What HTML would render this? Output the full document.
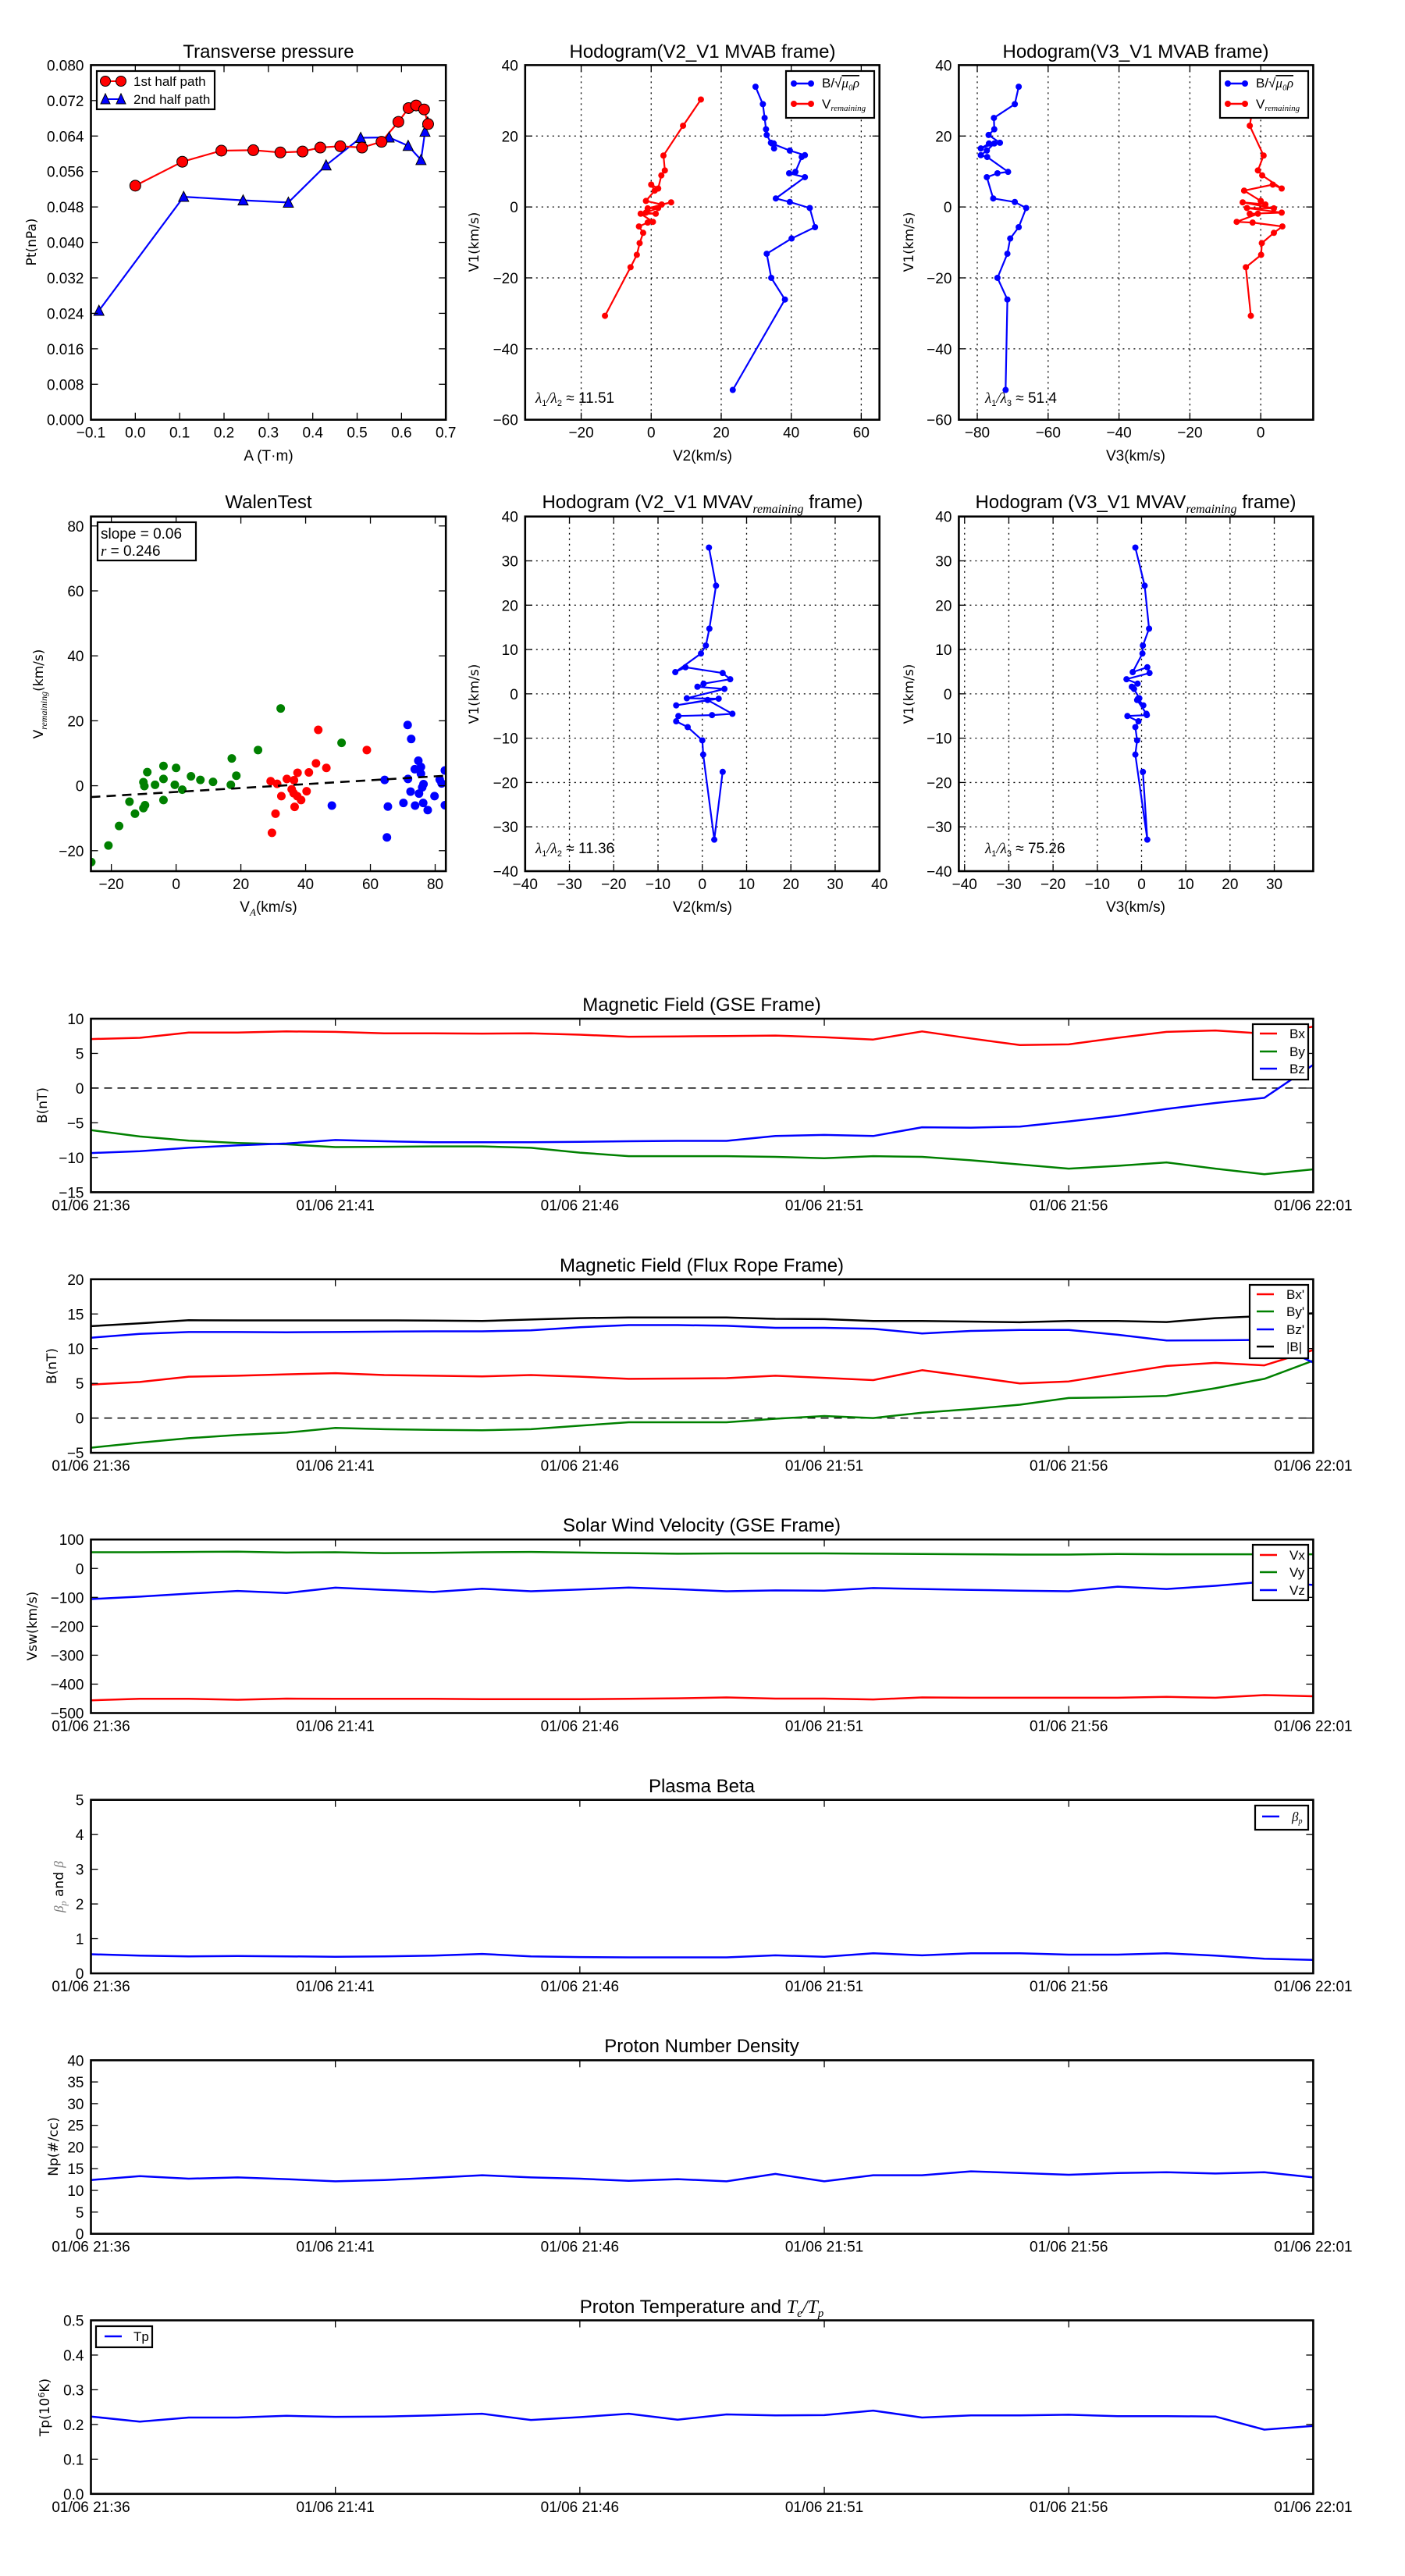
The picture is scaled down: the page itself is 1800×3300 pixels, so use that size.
<!DOCTYPE html>
<html>
<head>
<meta charset="utf-8">
<style>
html,body{margin:0;padding:0;background:#fff;}
svg{display:block;}
text{font-family:"Liberation Sans",sans-serif;fill:#000;}
.t{font-size:24px;text-anchor:middle;}
.yl{font-family:"DejaVu Sans","Liberation Sans",sans-serif;font-size:17px;text-anchor:middle;}
.xl{font-size:19px;text-anchor:middle;}
.lg{font-size:17px;}
.m{font-family:"Liberation Serif",serif;font-style:italic;}
</style>
</head>
<body>
<svg id="figure" xmlns="http://www.w3.org/2000/svg" width="1800" height="3300" viewBox="0 0 1800 3300">
<rect x="0" y="0" width="1800" height="3300" fill="#fff"/>

<!-- Titles -->
<text class="t" x="344" y="74">Transverse pressure</text>
<text class="t" x="900" y="74">Hodogram(V2_V1 MVAB frame)</text>
<text class="t" x="1455" y="74">Hodogram(V3_V1 MVAB frame)</text>
<text class="t" x="344" y="651">WalenTest</text>
<text class="t" x="900" y="651">Hodogram (V2_V1 MVAV<tspan class="m" font-size="16" dy="6">remaining</tspan><tspan dy="-6"> frame)</tspan></text>
<text class="t" x="1455" y="651">Hodogram (V3_V1 MVAV<tspan class="m" font-size="16" dy="6">remaining</tspan><tspan dy="-6"> frame)</tspan></text>
<text class="t" x="899" y="1295">Magnetic Field (GSE Frame)</text>
<text class="t" x="899" y="1629">Magnetic Field (Flux Rope Frame)</text>
<text class="t" x="899" y="1962">Solar Wind Velocity (GSE Frame)</text>
<text class="t" x="899" y="2296">Plasma Beta</text>
<text class="t" x="899" y="2629">Proton Number Density</text>
<text class="t" x="899" y="2963">Proton Temperature and <tspan class="m">T</tspan><tspan class="m" font-size="15" dy="5">e</tspan><tspan class="m" dy="-5">/T</tspan><tspan class="m" font-size="15" dy="5">p</tspan></text>

<!-- Axis labels -->
<text class="xl" x="344" y="590">A (T·m)</text>
<text class="xl" x="900" y="590">V2(km/s)</text>
<text class="xl" x="1455" y="590">V3(km/s)</text>
<text class="xl" x="344" y="1168">V<tspan class="m" font-size="13" dy="5">A</tspan><tspan dy="-5">(km/s)</tspan></text>
<text class="xl" x="900" y="1168">V2(km/s)</text>
<text class="xl" x="1455" y="1168">V3(km/s)</text>

<text class="yl" transform="translate(46,310) rotate(-90)">Pt(nPa)</text>
<text class="yl" transform="translate(613,310) rotate(-90)">V1(km/s)</text>
<text class="yl" transform="translate(1170,310) rotate(-90)">V1(km/s)</text>
<text class="yl" transform="translate(55,889) rotate(-90)">V<tspan class="m" font-size="12" dy="5">remaining</tspan><tspan dy="-5">(km/s)</tspan></text>
<text class="yl" transform="translate(613,889) rotate(-90)">V1(km/s)</text>
<text class="yl" transform="translate(1170,889) rotate(-90)">V1(km/s)</text>

<text class="yl" transform="translate(60,1416) rotate(-90)">B(nT)</text>
<text class="yl" transform="translate(72,1750) rotate(-90)">B(nT)</text>
<text class="yl" transform="translate(47,2083) rotate(-90)">Vsw(km/s)</text>
<text class="yl" transform="translate(81,2417) rotate(-90)"><tspan class="m" fill="#777">β</tspan><tspan class="m" fill="#777" font-size="12" dy="4">p</tspan><tspan dy="-4"> and </tspan><tspan class="m" fill="#777">β</tspan></text>
<text class="yl" transform="translate(74,2750) rotate(-90)">Np(#/cc)</text>
<text class="yl" transform="translate(63,3084) rotate(-90)">Tp(10<tspan font-size="11" dy="-6">6</tspan><tspan dy="6">K)</tspan></text>

<g id="plots"></g>

<!-- Legends & annotations (drawn on top) -->
<g>
  <rect x="124" y="91" width="151" height="49" fill="#fff" stroke="#000" stroke-width="2.2"/>
  <line x1="135" y1="104" x2="155" y2="104" stroke="#f00" stroke-width="2"/>
  <circle cx="135" cy="104" r="6.5" fill="#f00" stroke="#000" stroke-width="1"/>
  <circle cx="155" cy="104" r="6.5" fill="#f00" stroke="#000" stroke-width="1"/>
  <text class="lg" x="171" y="110">1st half path</text>
  <line x1="135" y1="127" x2="155" y2="127" stroke="#00f" stroke-width="2"/>
  <polygon points="135,120 141,133 129,133" fill="#00f" stroke="#000" stroke-width="1"/>
  <polygon points="155,120 161,133 149,133" fill="#00f" stroke="#000" stroke-width="1"/>
  <text class="lg" x="171" y="133">2nd half path</text>
</g>
<g>
  <rect x="1007" y="91" width="113" height="60" fill="#fff" stroke="#000" stroke-width="2.2"/>
  <line x1="1017" y1="107" x2="1039" y2="107" stroke="#00f" stroke-width="2.5"/>
  <circle cx="1017" cy="107" r="4" fill="#00f"/><circle cx="1039" cy="107" r="4" fill="#00f"/>
  <text class="lg" x="1053" y="112">B/√<tspan class="m" text-decoration="overline">μ₀ρ</tspan></text>
  <line x1="1017" y1="133" x2="1039" y2="133" stroke="#f00" stroke-width="2.5"/>
  <circle cx="1017" cy="133" r="4" fill="#f00"/><circle cx="1039" cy="133" r="4" fill="#f00"/>
  <text class="lg" x="1053" y="139">V<tspan class="m" font-size="11" dy="3">remaining</tspan></text>
</g>
<g>
  <rect x="1563" y="91" width="113" height="60" fill="#fff" stroke="#000" stroke-width="2.2"/>
  <line x1="1573" y1="107" x2="1595" y2="107" stroke="#00f" stroke-width="2.5"/>
  <circle cx="1573" cy="107" r="4" fill="#00f"/><circle cx="1595" cy="107" r="4" fill="#00f"/>
  <text class="lg" x="1609" y="112">B/√<tspan class="m" text-decoration="overline">μ₀ρ</tspan></text>
  <line x1="1573" y1="133" x2="1595" y2="133" stroke="#f00" stroke-width="2.5"/>
  <circle cx="1573" cy="133" r="4" fill="#f00"/><circle cx="1595" cy="133" r="4" fill="#f00"/>
  <text class="lg" x="1609" y="139">V<tspan class="m" font-size="11" dy="3">remaining</tspan></text>
</g>
<g>
  <rect x="125" y="669" width="126" height="49" fill="#fff" stroke="#000" stroke-width="2.2"/>
  <text x="129" y="690" font-size="19">slope = 0.06</text>
  <text x="129" y="712" font-size="19"><tspan class="m">r</tspan> = 0.246</text>
</g>
<text x="686" y="516" font-size="19"><tspan class="m">λ</tspan><tspan font-size="11" dy="4">1</tspan><tspan class="m" dy="-4">/λ</tspan><tspan font-size="11" dy="4">2</tspan><tspan dy="-4"> ≈ 11.51</tspan></text>
<text x="1262" y="516" font-size="19"><tspan class="m">λ</tspan><tspan font-size="11" dy="4">1</tspan><tspan class="m" dy="-4">/λ</tspan><tspan font-size="11" dy="4">3</tspan><tspan dy="-4"> ≈ 51.4</tspan></text>
<text x="686" y="1093" font-size="19"><tspan class="m">λ</tspan><tspan font-size="11" dy="4">1</tspan><tspan class="m" dy="-4">/λ</tspan><tspan font-size="11" dy="4">2</tspan><tspan dy="-4"> ≈ 11.36</tspan></text>
<text x="1262" y="1093" font-size="19"><tspan class="m">λ</tspan><tspan font-size="11" dy="4">1</tspan><tspan class="m" dy="-4">/λ</tspan><tspan font-size="11" dy="4">3</tspan><tspan dy="-4"> ≈ 75.26</tspan></text>

<g>
  <rect x="1605" y="1312" width="71" height="71" fill="#fff" stroke="#000" stroke-width="2.2"/>
  <line x1="1614" y1="1324" x2="1636" y2="1324" stroke="#f00" stroke-width="2.5"/><text class="lg" x="1652" y="1330">Bx</text>
  <line x1="1614" y1="1347" x2="1636" y2="1347" stroke="#008000" stroke-width="2.5"/><text class="lg" x="1652" y="1353">By</text>
  <line x1="1614" y1="1369" x2="1636" y2="1369" stroke="#00f" stroke-width="2.5"/><text class="lg" x="1652" y="1375">Bz</text>
</g>
<g>
  <rect x="1601" y="1646" width="75" height="94" fill="#fff" stroke="#000" stroke-width="2.2"/>
  <line x1="1610" y1="1658" x2="1632" y2="1658" stroke="#f00" stroke-width="2.5"/><text class="lg" x="1648" y="1664">Bx'</text>
  <line x1="1610" y1="1680" x2="1632" y2="1680" stroke="#008000" stroke-width="2.5"/><text class="lg" x="1648" y="1686">By'</text>
  <line x1="1610" y1="1703" x2="1632" y2="1703" stroke="#00f" stroke-width="2.5"/><text class="lg" x="1648" y="1709">Bz'</text>
  <line x1="1610" y1="1725" x2="1632" y2="1725" stroke="#000" stroke-width="2.5"/><text class="lg" x="1648" y="1731">|B|</text>
</g>
<g>
  <rect x="1605" y="1979" width="71" height="71" fill="#fff" stroke="#000" stroke-width="2.2"/>
  <line x1="1614" y1="1992" x2="1636" y2="1992" stroke="#f00" stroke-width="2.5"/><text class="lg" x="1652" y="1998">Vx</text>
  <line x1="1614" y1="2014" x2="1636" y2="2014" stroke="#008000" stroke-width="2.5"/><text class="lg" x="1652" y="2020">Vy</text>
  <line x1="1614" y1="2037" x2="1636" y2="2037" stroke="#00f" stroke-width="2.5"/><text class="lg" x="1652" y="2043">Vz</text>
</g>
<g>
  <rect x="1608" y="2313" width="68" height="31" fill="#fff" stroke="#000" stroke-width="2.2"/>
  <line x1="1617" y1="2327" x2="1639" y2="2327" stroke="#00f" stroke-width="2.5"/>
  <text class="lg m" x="1655" y="2333" fill="#777">β<tspan font-size="10" dy="3">p</tspan></text>
</g>
<g>
  <rect x="123" y="2980" width="72" height="27" fill="#fff" stroke="#000" stroke-width="2.2"/>
  <line x1="134" y1="2993" x2="156" y2="2993" stroke="#00f" stroke-width="2.5"/>
  <text class="lg" x="171" y="2999">Tp</text>
</g>
</svg>

<script>
// ---------------- DATA ----------------
// Transverse pressure
const tpA1 = [0.0, 0.106, 0.194, 0.266, 0.327, 0.377, 0.417, 0.462, 0.511, 0.555, 0.593, 0.616, 0.633, 0.651, 0.660];
const tpP1 = [0.0528, 0.0582, 0.0607, 0.0608, 0.0603, 0.0605, 0.0614, 0.0617, 0.0614, 0.0627, 0.0672, 0.0703, 0.0709, 0.0700, 0.0667];
const tpA2 = [-0.082, 0.109, 0.243, 0.345, 0.430, 0.508, 0.572, 0.615, 0.644, 0.653, 0.659];
const tpP2 = [0.0246, 0.0503, 0.0495, 0.0490, 0.0574, 0.0636, 0.0637, 0.0618, 0.0586, 0.0650, 0.0671];

// MVAB hodograms
const bV1 = [33.9, 29.0, 25.1, 21.9, 20.3, 18.1, 17.9, 16.5, 17.9, 15.9, 14.6, 14.1, 9.9, 9.5, 8.4, 2.4, 1.4, -0.3, -5.7, -8.9, -13.2, -20.0, -26.1, -51.6];
const bV2 = [29.8, 31.9, 32.4, 32.8, 33.0, 34.2, 35.0, 35.1, 34.5, 39.6, 43.9, 43.0, 41.2, 39.4, 43.9, 35.6, 39.6, 45.3, 46.8, 40.1, 33.0, 34.3, 38.2, 23.3];
const bV3 = [-68.3, -69.4, -75.3, -75.2, -76.8, -73.6, -76.7, -79.0, -75.2, -77.3, -79.0, -77.2, -71.3, -74.3, -77.3, -75.5, -69.4, -66.2, -68.3, -70.7, -71.5, -74.3, -71.5, -72.0];
const vV1 = [-30.7, -17.0, -13.5, -10.2, -7.3, -5.5, -4.4, -4.2, -1.9, -1.9, -1.6, -0.3, -0.4, 1.3, 0.7, 1.7, 4.6, 6.3, 5.2, 8.9, 10.3, 14.5, 22.9, 30.3];
const vV2 = [-13.2, -5.9, -4.1, -3.3, -2.3, -3.5, -1.0, 0.5, -3.0, 1.3, -1.5, 2.0, -1.0, 5.7, 3.0, -1.5, 1.0, 0.0, 2.0, 2.9, 3.9, 3.5, 9.1, 14.2];
const vV3 = [-2.8, -4.2, 0.1, 0.3, 3.7, 6.1, -2.3, -6.8, -0.8, -3.1, 5.9, -3.9, 3.7, -5.1, 1.3, 0.0, -4.7, 3.4, 5.9, 0.4, -0.8, 0.8, -3.1, -1.9];

// MVAV remaining hodograms
const mV1 = [33.0, 24.4, 14.7, 10.9, 9.1, 4.9, 6.0, 4.7, 3.3, 2.3, 1.6, 1.1, -1.0, -1.1, -2.6, -1.4, -4.5, -4.8, -5.0, -6.2, -7.5, -10.5, -13.7, -32.9, -17.6];
const mV2 = [1.5, 3.1, 1.6, 0.8, -0.3, -6.1, -3.8, 4.6, 6.3, 0.3, -1.1, 5.0, -3.5, 3.7, -5.9, 1.2, 6.8, 2.2, -5.4, -5.9, -3.3, 0.0, 0.2, 2.7, 4.6];
const mV3 = [-1.4, 0.7, 1.7, 0.3, 0.2, -2.0, 1.3, 1.8, -3.4, -0.9, -2.2, -1.7, -0.5, -0.8, 0.4, -1.0, 1.1, 1.2, -3.2, -0.7, -1.4, -1.0, -1.4, 1.3, 0.3];

// Walen test
const walenGreenX = [-26.2, -20.9, -17.6, -14.4, -12.7, -10.1, -9.6, -10.1, -9.8, -8.9, -6.5, -3.9, -3.9, -3.9, -0.4, 0.0, 1.9, 4.6, 7.5, 11.4, 16.9, 17.2, 18.6, 25.3, 32.3, 51.1];
const walenGreenY = [-23.5, -18.4, -12.4, -4.9, -8.6, -6.9, -6.0, 1.1, -0.1, 4.2, 0.3, -4.4, 2.1, 6.1, 0.3, 5.5, -1.2, 2.9, 1.8, 1.2, 0.3, 8.4, 3.1, 11.0, 23.8, 13.2];
const walenRedX = [29.2, 31.2, 29.6, 30.7, 32.5, 34.2, 35.7, 36.4, 36.3, 36.6, 37.5, 37.4, 38.6, 40.3, 41.0, 43.2, 43.9, 46.4, 58.9];
const walenRedY = [1.4, 0.6, -14.5, -8.6, -3.2, 2.1, -1.1, 1.7, -2.3, -6.5, 4.0, -3.2, -4.4, -1.7, 4.1, 6.9, 17.2, 5.5, 11.0];
const walenBlueX = [48.1, 64.4, 65.4, 65.1, 70.2, 71.5, 72.6, 71.6, 72.4, 73.8, 73.7, 74.8, 75.0, 75.6, 75.6, 76.0, 76.4, 76.3, 77.7, 79.8, 81.4, 82.0, 83.0, 83.0];
const walenBlueY = [-6.1, 1.8, -6.4, -15.9, -5.3, 18.7, 14.4, 2.1, -1.8, -6.1, 5.1, 7.7, -2.4, 5.8, 3.7, -0.5, 0.5, -5.3, -7.5, -3.2, 1.9, 0.7, 4.7, -6.0];
const walenFit = [0.06, -1.9]; // slope, intercept

// Time series (minutes after 21:36)
const minutes = [0,1,2,3,4,5,6,7,8,9,10,11,12,13,14,15,16,17,18,19,20,21,22,23,24,25];
const timeTicks = [0, 5, 10, 15, 20, 25];
const timeTickLabels = ['01/06 21:36','01/06 21:41','01/06 21:46','01/06 21:51','01/06 21:56','01/06 22:01'];
const bx = [7.06,7.25,8.0,8.0,8.17,8.1,7.9,7.9,7.85,7.9,7.7,7.4,7.45,7.5,7.57,7.34,7.0,8.17,7.15,6.2,6.3,7.25,8.1,8.3,7.85,8.85];
const by = [-6.05,-6.97,-7.57,-7.9,-8.1,-8.5,-8.45,-8.4,-8.4,-8.6,-9.3,-9.8,-9.8,-9.8,-9.9,-10.1,-9.8,-9.9,-10.4,-11.0,-11.6,-11.2,-10.7,-11.6,-12.4,-11.7];
const bz = [-9.36,-9.1,-8.6,-8.25,-7.98,-7.48,-7.66,-7.8,-7.8,-7.8,-7.75,-7.66,-7.6,-7.6,-6.9,-6.74,-6.9,-5.64,-5.7,-5.55,-4.8,-4.0,-3.0,-2.15,-1.4,3.35];
const bxp = [4.83,5.2,5.97,6.1,6.3,6.47,6.2,6.1,6.0,6.2,5.97,5.65,5.7,5.75,6.1,5.8,5.47,6.9,5.97,5.0,5.28,6.4,7.5,7.95,7.6,9.8];
const byp = [-4.27,-3.54,-2.9,-2.44,-2.1,-1.42,-1.6,-1.7,-1.75,-1.6,-1.1,-0.6,-0.6,-0.6,-0.1,0.3,0.0,0.78,1.3,1.93,2.9,3.0,3.2,4.3,5.65,8.27];
const bzp = [11.58,12.13,12.4,12.4,12.36,12.4,12.45,12.5,12.5,12.64,13.1,13.4,13.4,13.3,13.0,13.0,12.87,12.2,12.55,12.7,12.7,12.0,11.18,11.2,11.26,8.0];
const btot = [13.24,13.66,14.1,14.07,14.07,14.07,14.07,14.05,13.98,14.2,14.4,14.5,14.5,14.5,14.3,14.25,13.98,14.0,13.9,13.8,14.0,14.0,13.84,14.4,14.7,15.1];
const vx = [-456,-451,-451,-454,-450,-451,-451,-451,-452,-452,-452,-451,-449,-446,-450,-450,-453,-446,-447,-447,-447,-447,-444,-447,-438,-442];
const vy = [56,56,57,58,55,56,53,54,56,57,55,53,51,52,52,52,51,50,49,48,48,50,49,49,49,49];
const vz = [-106,-97.5,-87,-78,-85,-66.5,-74,-81.5,-70,-79,-73,-66,-72,-79,-76,-77,-68,-71,-74,-77,-79,-63,-71,-60,-46,-57];
const betaP = [0.55,0.51,0.49,0.5,0.49,0.48,0.49,0.51,0.56,0.49,0.47,0.46,0.46,0.46,0.52,0.48,0.58,0.52,0.58,0.58,0.54,0.54,0.58,0.51,0.42,0.39];
const np = [12.4,13.3,12.7,13.0,12.6,12.1,12.4,12.9,13.5,13.0,12.7,12.2,12.6,12.1,13.8,12.1,13.5,13.5,14.4,14.0,13.6,14.0,14.2,13.9,14.2,13.0];
const tp = [0.223,0.208,0.22,0.22,0.225,0.222,0.223,0.226,0.231,0.213,0.221,0.231,0.214,0.229,0.226,0.227,0.24,0.22,0.226,0.226,0.228,0.224,0.224,0.223,0.185,0.196];

// ---------------- DRAWING ----------------
const NS = 'http://www.w3.org/2000/svg';
const root = document.getElementById('plots');
let clipCount = 0;

function add(parent, tag, attrs, name) {
  const e = document.createElementNS(NS, tag);
  for (const k in attrs) e.setAttribute(k, attrs[k]);
  
  
  parent.appendChild(e);
  return e;
}

function fmt(v, d) {
  const s = Math.abs(v).toFixed(d);
  return (v < -1e-9 ? '\u2212' : '') + s;
}

function makePanel(name, box, xr, yr, opt) {
  const g = add(root, 'g', {}, name);
  const sx = v => box.x + (v - xr[0]) / (xr[1] - xr[0]) * box.w;
  const sy = v => box.y + box.h - (v - yr[0]) / (yr[1] - yr[0]) * box.h;
  const id = 'clip' + (clipCount++);
  const cp = add(g, 'clipPath', {id: id}, name + '-clip');
  add(cp, 'rect', {x: box.x, y: box.y, width: box.w, height: box.h}, name + '-clip-rect');
  const bottom = box.y + box.h, right = box.x + box.w;
  // grid
  if (opt.grid) {
    opt.xticks.forEach(t => {
      add(g, 'line', {x1: sx(t), y1: box.y, x2: sx(t), y2: bottom, stroke: '#000', 'stroke-width': 1.3, 'stroke-dasharray': '2,5'}, 'x-gridline');
    });
    opt.yticks.forEach(t => {
      add(g, 'line', {x1: box.x, y1: sy(t), x2: right, y2: sy(t), stroke: '#000', 'stroke-width': 1.3, 'stroke-dasharray': '2,5'}, 'y-gridline');
    });
  }
  const data = add(g, 'g', {'clip-path': 'url(#' + id + ')'}, name + '-marks');
  // ticks
  opt.xticks.forEach((t, i) => {
    const x = sx(t);
    add(g, 'line', {x1: x, y1: bottom, x2: x, y2: bottom - 9, stroke: '#000', 'stroke-width': 1.3}, 'x-tick');
    add(g, 'line', {x1: x, y1: box.y, x2: x, y2: box.y + 9, stroke: '#000', 'stroke-width': 1.3}, 'x-tick');
    const lab = add(g, 'text', {x: x, y: bottom + opt.xlabOff, 'font-size': 19, 'text-anchor': 'middle'}, 'x-tick-label');
    lab.textContent = opt.xlabels[i];
  });
  opt.yticks.forEach((t, i) => {
    const y = sy(t);
    add(g, 'line', {x1: box.x, y1: y, x2: box.x + 9, y2: y, stroke: '#000', 'stroke-width': 1.3}, 'y-tick');
    add(g, 'line', {x1: right, y1: y, x2: right - 9, y2: y, stroke: '#000', 'stroke-width': 1.3}, 'y-tick');
    const lab = add(g, 'text', {x: box.x - 9, y: y + 7, 'font-size': 19, 'text-anchor': 'end'}, 'y-tick-label');
    lab.textContent = opt.ylabels[i];
  });
  add(g, 'rect', {x: box.x, y: box.y, width: box.w, height: box.h, fill: 'none', stroke: '#000', 'stroke-width': 2.6}, name + '-frame');
  return {g: data, sx: sx, sy: sy, xr: xr, yr: yr};
}

function line(p, xs, ys, color, name, w, dash) {
  const pts = xs.map((v, i) => p.sx(v).toFixed(1) + ',' + p.sy(ys[i]).toFixed(1)).join(' ');
  const a = {points: pts, fill: 'none', stroke: color, 'stroke-width': w || 2.5, 'stroke-linejoin': 'round'};
  if (dash) a['stroke-dasharray'] = dash;
  add(p.g, 'polyline', a, name);
}
function dots(p, xs, ys, color, r, name, outline) {
  xs.forEach((v, i) => {
    const a = {cx: p.sx(v), cy: p.sy(ys[i]), r: r, fill: color};
    if (outline) { a.stroke = '#000'; a['stroke-width'] = 1; }
    add(p.g, 'circle', a, name);
  });
}
function tris(p, xs, ys, color, name) {
  xs.forEach((v, i) => {
    const x = p.sx(v), y = p.sy(ys[i]);
    add(p.g, 'polygon', {points: (x) + ',' + (y - 7) + ' ' + (x + 6.5) + ',' + (y + 6) + ' ' + (x - 6.5) + ',' + (y + 6), fill: color, stroke: '#000', 'stroke-width': 1}, name);
  });
}
function ticks(a, b, s) { const r = []; for (let v = a; v <= b + 1e-9; v += s) r.push(Math.round(v * 1e6) / 1e6); return r; }

const colX = [116.5, 672.8, 1228.4], colW = [454.7, 453.9, 454.0];
const rowTop = 83.4, rowH = 454.3, row2Top = 661.7, row2H = 454.3;

// Transverse pressure
{
  const xt = ticks(-0.1, 0.7, 0.1), yt = ticks(0, 0.08, 0.008);
  const p = makePanel('transverse-pressure-plot', {x: colX[0], y: rowTop, w: colW[0], h: rowH}, [-0.1, 0.7], [0, 0.08],
    {xticks: xt, xlabels: xt.map(v => fmt(v, 1)), yticks: yt, ylabels: yt.map(v => fmt(v, 3)), xlabOff: 23});
  line(p, tpA2, tpP2, '#00f', 'second-half-path-line', 2.2);
  line(p, tpA1, tpP1, '#f00', 'first-half-path-line', 2.2);
  tris(p, tpA2, tpP2, '#00f', 'second-half-marker');
  dots(p, tpA1, tpP1, '#f00', 7, 'first-half-marker', true);
}
// Hodogram V2-V1 MVAB
{
  const xt = ticks(-20, 60, 20), yt = ticks(-60, 40, 20);
  const p = makePanel('hodogram-v2v1-mvab-plot', {x: colX[1], y: rowTop, w: colW[1], h: rowH}, [-36, 65.2], [-60, 40],
    {grid: true, xticks: xt, xlabels: xt.map(v => fmt(v, 0)), yticks: yt, ylabels: yt.map(v => fmt(v, 0)), xlabOff: 23});
  line(p, bV2, bV1, '#00f', 'b-alfven-line', 2.2); dots(p, bV2, bV1, '#00f', 4, 'b-alfven-point');
  line(p, vV2, vV1, '#f00', 'v-remaining-line', 2.2); dots(p, vV2, vV1, '#f00', 4, 'v-remaining-point');
}
// Hodogram V3-V1 MVAB
{
  const xt = ticks(-80, 0, 20), yt = ticks(-60, 40, 20);
  const p = makePanel('hodogram-v3v1-mvab-plot', {x: colX[2], y: rowTop, w: colW[2], h: rowH}, [-85.2, 14.8], [-60, 40],
    {grid: true, xticks: xt, xlabels: xt.map(v => fmt(v, 0)), yticks: yt, ylabels: yt.map(v => fmt(v, 0)), xlabOff: 23});
  line(p, bV3, bV1, '#00f', 'b-alfven-line', 2.2); dots(p, bV3, bV1, '#00f', 4, 'b-alfven-point');
  line(p, vV3, vV1, '#f00', 'v-remaining-line', 2.2); dots(p, vV3, vV1, '#f00', 4, 'v-remaining-point');
}
// Walen test
{
  const xt = ticks(-20, 80, 20), yt = ticks(-20, 80, 20);
  const xr = [-26.3, 83.3];
  const p = makePanel('walen-test-plot', {x: colX[0], y: row2Top, w: colW[0], h: row2H}, xr, [-26.3, 82.9],
    {xticks: xt, xlabels: xt.map(v => fmt(v, 0)), yticks: yt, ylabels: yt.map(v => fmt(v, 0)), xlabOff: 23});
  dots(p, walenGreenX, walenGreenY, '#008000', 5.5, 'walen-green-point');
  dots(p, walenRedX, walenRedY, '#f00', 5.5, 'walen-red-point');
  dots(p, walenBlueX, walenBlueY, '#00f', 5.5, 'walen-blue-point');
  line(p, xr, xr.map(v => walenFit[0] * v + walenFit[1]), '#000', 'walen-fit-line', 2.6, '12,8');
}
// Hodogram V2-V1 MVAV
{
  const xt = ticks(-40, 40, 10), yt = ticks(-40, 40, 10);
  const p = makePanel('hodogram-v2v1-mvav-plot', {x: colX[1], y: row2Top, w: colW[1], h: row2H}, [-40, 40], [-40, 40],
    {grid: true, xticks: xt, xlabels: xt.map(v => fmt(v, 0)), yticks: yt, ylabels: yt.map(v => fmt(v, 0)), xlabOff: 23});
  line(p, mV2, mV1, '#00f', 'mvav-line', 2.2); dots(p, mV2, mV1, '#00f', 4, 'mvav-point');
}
// Hodogram V3-V1 MVAV
{
  const xt = ticks(-40, 30, 10), yt = ticks(-40, 40, 10);
  const p = makePanel('hodogram-v3v1-mvav-plot', {x: colX[2], y: row2Top, w: colW[2], h: row2H}, [-41.3, 38.8], [-40, 40],
    {grid: true, xticks: xt, xlabels: xt.map(v => fmt(v, 0)), yticks: yt, ylabels: yt.map(v => fmt(v, 0)), xlabOff: 23});
  line(p, mV3, mV1, '#00f', 'mvav-line', 2.2); dots(p, mV3, mV1, '#00f', 4, 'mvav-point');
}

// Time series panels
const tsTops = [1305, 1638.8, 1972.2, 2305.7, 2639.3, 2972.5];
const tsH = 222.3, tsX = 116.5, tsW = 1565.9;
function tsPanel(k, name, yr, ystep, dec) {
  const yt = ticks(yr[0], yr[1], ystep);
  return makePanel(name, {x: tsX, y: tsTops[k], w: tsW, h: tsH}, [0, 25], yr,
    {xticks: timeTicks, xlabels: timeTickLabels, yticks: yt, ylabels: yt.map(v => fmt(v, dec)), xlabOff: 23});
}
{
  const p = tsPanel(0, 'mag-field-gse-plot', [-15, 10], 5, 0);
  line(p, [0, 25], [0, 0], '#000', 'zero-line', 1.5, '10,7');
  line(p, minutes, bx, '#f00', 'bx-line'); line(p, minutes, by, '#008000', 'by-line'); line(p, minutes, bz, '#00f', 'bz-line');
}
{
  const p = tsPanel(1, 'mag-field-fluxrope-plot', [-5, 20], 5, 0);
  line(p, [0, 25], [0, 0], '#000', 'zero-line', 1.5, '10,7');
  line(p, minutes, bxp, '#f00', 'bx-prime-line'); line(p, minutes, byp, '#008000', 'by-prime-line');
  line(p, minutes, bzp, '#00f', 'bz-prime-line'); line(p, minutes, btot, '#000', 'btotal-line');
}
{
  const p = tsPanel(2, 'solar-wind-velocity-plot', [-500, 100], 100, 0);
  line(p, minutes, vx, '#f00', 'vx-line'); line(p, minutes, vy, '#008000', 'vy-line'); line(p, minutes, vz, '#00f', 'vz-line');
}
{
  const p = tsPanel(3, 'plasma-beta-plot', [0, 5], 1, 0);
  line(p, minutes, betaP, '#00f', 'beta-p-line');
}
{
  const p = tsPanel(4, 'proton-density-plot', [0, 40], 5, 0);
  line(p, minutes, np, '#00f', 'np-line');
}
{
  const p = tsPanel(5, 'proton-temperature-plot', [0, 0.5], 0.1, 1);
  line(p, minutes, tp, '#00f', 'tp-line');
}
</script>
</body>
</html>
